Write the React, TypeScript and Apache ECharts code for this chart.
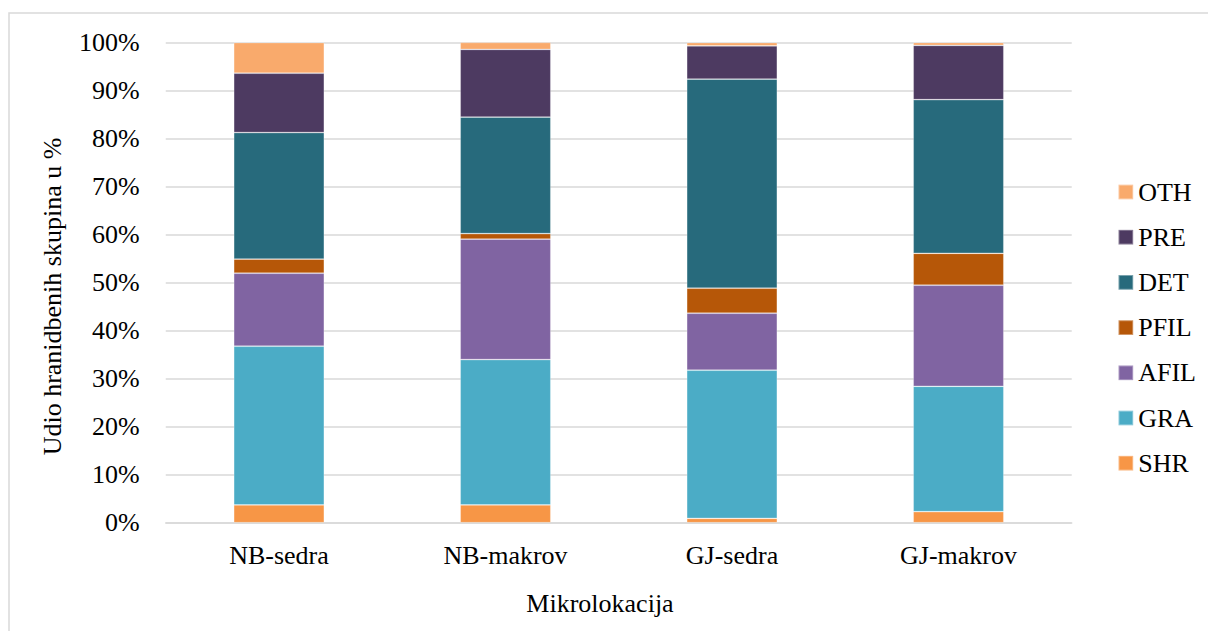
import React, { useEffect, useRef } from "react";
import * as echarts from "echarts";

const categories = ["NB-sedra", "NB-makrov", "GJ-sedra", "GJ-makrov"];
const seriesNames = ["SHR", "GRA", "AFIL", "PFIL", "DET", "PRE", "OTH"];
const SHR = [3.7, 3.7, 0.9, 2.3];
const GRA = [33.05, 30.27, 30.85, 26.1];
const AFIL = [15.2, 25.08, 11.87, 21.05];
const PFIL = [2.95, 1.16, 5.21, 6.65];
const DET = [26.35, 24.25, 43.54, 32.0];
const PRE = [12.35, 14.1, 6.93, 11.3];
const OTH = [6.4, 1.45, 0.7, 0.6];
const seriesValues = [SHR, GRA, AFIL, PFIL, DET, PRE, OTH];
const seriesColors = ["#F79646", "#4BACC6", "#8064A2", "#B65708", "#276A7C", "#4D3A61", "#F9AA6C"];
const yTicks = [0, 10, 20, 30, 40, 50, 60, 70, 80, 90, 100];
const xTitle = "Mikrolokacija";
const yTitle = "Udio hranidbenih skupina u %";

const FONT = "Liberation Serif";
const FS = 26;

export default function App() {
  const ref = useRef<HTMLDivElement>(null);
  useEffect(() => {
    document.body.style.margin = "0";
    const chart = echarts.init(ref.current!, null, { renderer: "svg" });
    chart.setOption({
      animation: false,
      backgroundColor: "#fff",
      textStyle: { fontFamily: FONT },
      grid: { left: 165.75, right: 136.25, top: 42.5, bottom: 108.3, containLabel: false },
      legend: {
        orient: "vertical",
        left: 1112.5,
        top: 174,
        itemWidth: 14.7,
        itemHeight: 14.7,
        itemGap: 19.2,
        icon: "rect",
        data: seriesNames.slice().reverse(),
        textStyle: { fontFamily: FONT, fontSize: FS, fontWeight: "normal", color: "#000" },
      },
      xAxis: {
        type: "category",
        data: categories,
        axisTick: { show: false },
        axisLine: { show: true, lineStyle: { color: "#d9d9d9", width: 1.5 } },
        axisLabel: { fontFamily: FONT, fontSize: FS, fontWeight: "normal", color: "#000", margin: 20 },
      },
      yAxis: {
        type: "value",
        min: 0,
        max: 100,
        interval: 10,
        axisLine: { show: false },
        axisTick: { show: false },
        splitLine: { show: true, lineStyle: { color: "#d9d9d9", width: 1.5 } },
        axisLabel: {
          fontFamily: FONT,
          fontSize: FS,
          fontWeight: "normal",
          color: "#000",
          margin: 26,
          formatter: (v: number) => (yTicks.includes(v) ? v + "%" : ""),
        },
      },
      series: seriesNames.map((name, i) => ({
        name,
        type: "bar",
        stack: "total",
        barWidth: "40%",
        data: seriesValues[i],
        itemStyle: { color: seriesColors[i], borderColor: "rgba(255,255,255,0.35)", borderWidth: 0.75 },
      })),
      graphic: [
        {
          type: "rect",
          shape: { x: 9, y: 13, width: 1220, height: 640 },
          style: { fill: "none", stroke: "#d9d9d9", lineWidth: 1.5 },
          silent: true,
        },
        {
          type: "text",
          x: 600,
          y: 603,
          style: {
            text: xTitle,
            fontFamily: FONT,
            fontSize: FS,
            fill: "#000",
            textAlign: "center",
            textVerticalAlign: "middle",
          },
        },
        {
          type: "text",
          x: 52.7,
          y: 296.5,
          rotation: Math.PI / 2,
          style: {
            text: yTitle,
            fontFamily: FONT,
            fontSize: FS,
            fill: "#000",
            textAlign: "center",
            textVerticalAlign: "middle",
          },
        },
      ],
    });
    return () => chart.dispose();
  }, []);
  return <div ref={ref} style={{ width: 1208, height: 631 }} />;
}
